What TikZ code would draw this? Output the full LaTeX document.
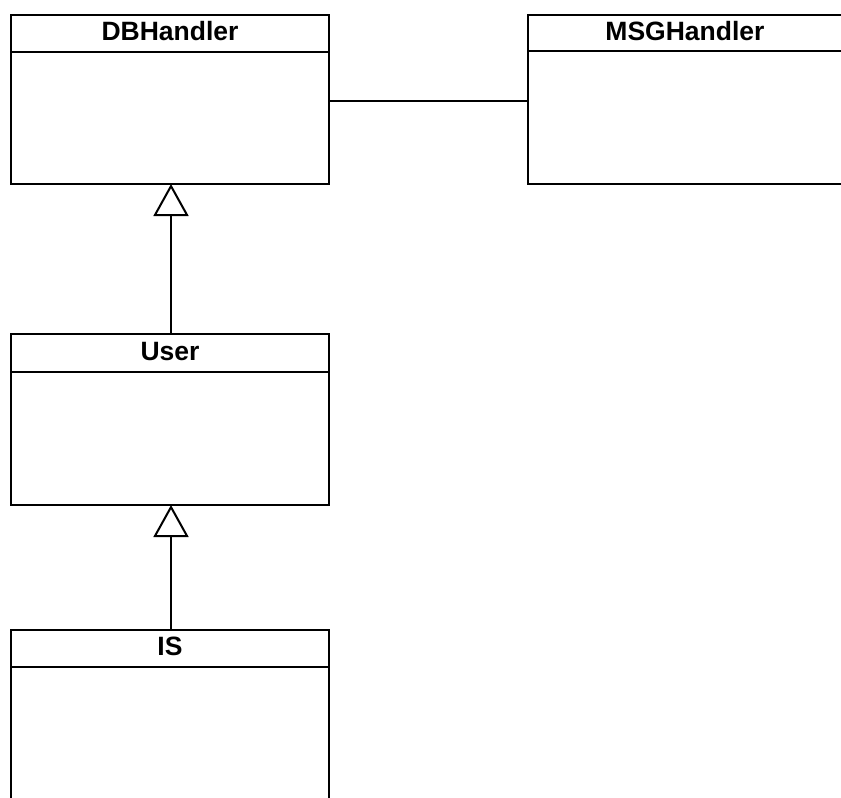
\documentclass[tikz,border=0pt]{standalone}
\usepackage{fontspec}
\setmainfont{Liberation Sans}
\usetikzlibrary{arrows.meta}
\tikzset{
  classbox/.style={draw=black, line width=2pt, rectangle, inner sep=0pt, outer sep=0pt, minimum width=318pt, fill=white},
  classtitle/.style={anchor=base, inner sep=0pt, font=\fontsize{26.5}{30}\selectfont\bfseries},
  sepline/.style={line width=2pt},
  assoc/.style={line width=2pt},
  gen/.style={line width=2pt, -{Triangle[open, length=32pt, width=35pt, line width=2pt]}},
}
\begin{document}
\begin{tikzpicture}[x=1pt, y=-1pt]
  \useasboundingbox (0,0) rectangle (841,798);
  \clip (0,0) rectangle (841,798);
  % DBHandler
  \node[classbox, minimum height=169pt] (dbh) at (170,99.5) {};
  \node[classtitle] (dbht) at (170,40.7) {DBHandler};
  \draw[sepline] (dbh.west |- 0,52) -- (dbh.east |- 0,52);
  % MSGHandler (cut off on the right)
  \node[classbox, minimum height=169pt] (msg) at (687,99.5) {};
  \node[classtitle] (msgt) at (685,40.7) {MSGHandler};
  \draw[sepline] (msg.west |- 0,50.5) -- (msg.east |- 0,50.5);
  % User
  \node[classbox, minimum height=171pt] (user) at (170,419.5) {};
  \node[classtitle] (usert) at (170,360.4) {User};
  \draw[sepline] (user.west |- 0,372) -- (user.east |- 0,372);
  % IS (cut off at the bottom)
  \node[classbox, minimum height=200pt] (is) at (170,730) {};
  \node[classtitle] (ist) at (170,655.8) {IS};
  \draw[sepline] (is.west |- 0,667) -- (is.east |- 0,667);
  % connectors
  \draw[assoc] ([yshift=-1.5pt]dbh.east) -- ([yshift=-1.5pt]msg.west);
  \draw[gen] ([xshift=1pt]user.north) -- ([xshift=1pt]dbh.south);
  \draw[gen] ([xshift=1pt]is.north) -- ([xshift=1pt]user.south);
\end{tikzpicture}
\end{document}
